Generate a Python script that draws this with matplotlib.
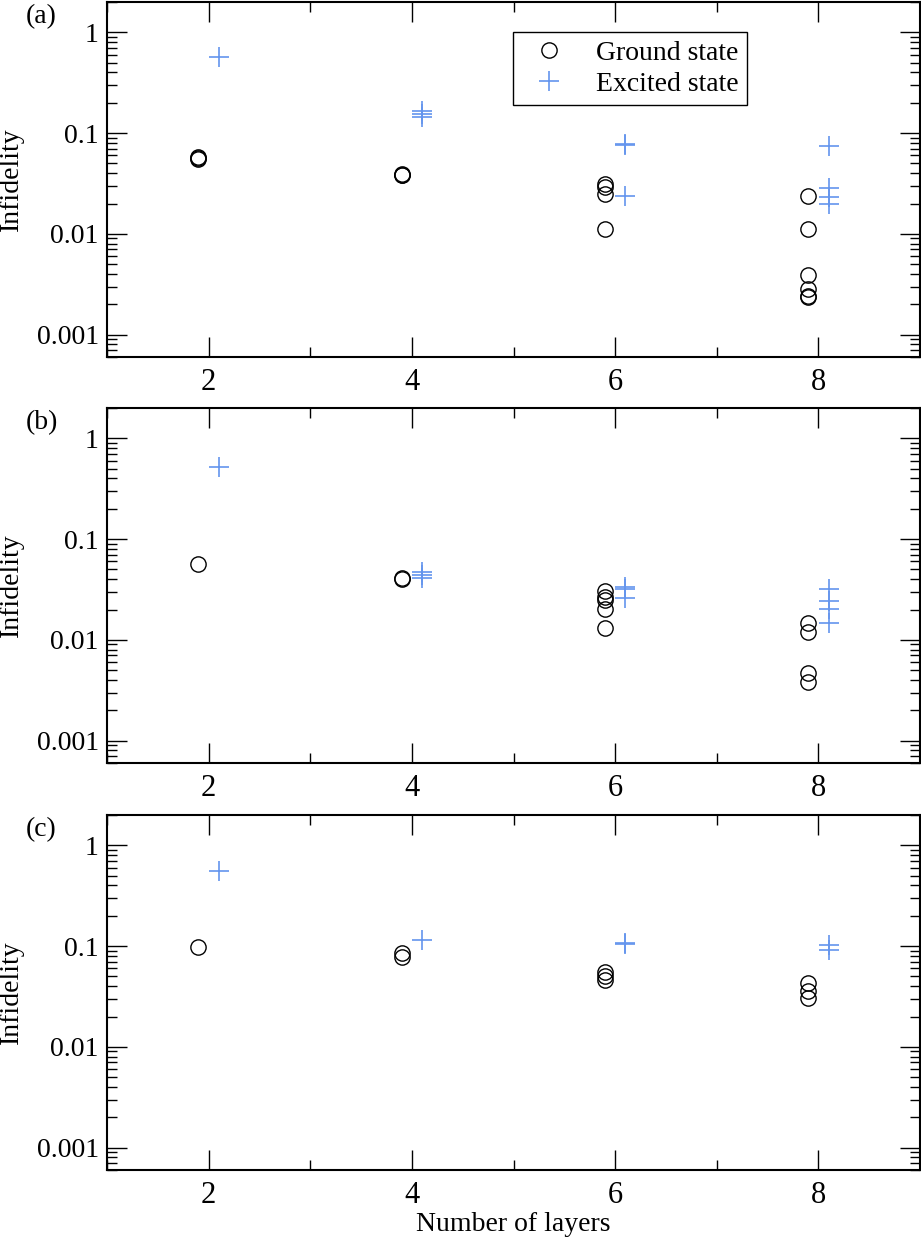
import matplotlib
matplotlib.use("Agg")
import matplotlib.pyplot as plt
from matplotlib.ticker import FixedLocator, NullFormatter, LogLocator

plt.rcParams["font.family"] = ["Liberation Serif", "DejaVu Serif"]
plt.rcParams["mathtext.fontset"] = "stix"

layers = [2, 4, 6, 8]

# panel (a)
a_ground = [[0.0555, 0.0565, 0.0575], [0.038, 0.0385, 0.039],
            [0.0295, 0.031, 0.0247, 0.0112],
            [0.024, 0.0112, 0.0039, 0.00284, 0.00234, 0.0024]]
a_excited = [[0.57], [0.165, 0.155, 0.145], [0.076, 0.078, 0.024],
             [0.0743, 0.0283, 0.0234, 0.0198]]

# panel (b)
b_ground = [[0.0565], [0.040, 0.0408],
            [0.0308, 0.0268, 0.0249, 0.0201, 0.0131],
            [0.0148, 0.0119, 0.00468, 0.00386]]
b_excited = [[0.516], [0.0475, 0.044, 0.0414], [0.0332, 0.0322, 0.0262],
             [0.032, 0.0243, 0.0201, 0.0148]]

# panel (c)
c_ground = [[0.0985], [0.0848, 0.0773], [0.0557, 0.0508, 0.046],
            [0.0434, 0.0358, 0.0303]]
c_excited = [[0.553], [0.1146], [0.104, 0.107], [0.102, 0.091]]

panels = [("(a)", a_ground, a_excited), ("(b)", b_ground, b_excited),
          ("(c)", c_ground, c_excited)]
yticks = [1, 0.1, 0.01, 0.001]
ytick_labels = ["1", "0.1", "0.01", "0.001"]

blue = "#6495ED"
W, H = 921, 1241
fig = plt.figure(figsize=(W / 100, H / 100), dpi=100)

tops = [2, 408, 815]
bottoms = [357, 763, 1170]
left_px, right_px = 107, 920

axes = []
for i, (lab, gr, ex) in enumerate(panels):
    ax = fig.add_axes([left_px / W, 1 - bottoms[i] / H,
                       (right_px - left_px) / W, (bottoms[i] - tops[i]) / H])
    axes.append(ax)
    for L, vals in zip(layers, gr):
        ax.plot([L - 0.1] * len(vals), vals, ls="none", marker="o", ms=11,
                mfc="none", mec="black", mew=1.0,
                label="Ground state" if L == 2 else None)
    for L, vals in zip(layers, ex):
        ax.plot([L + 0.1] * len(vals), vals, ls="none", marker="+", ms=15,
                mec=blue, mew=1.2,
                label="Excited state" if L == 2 else None)

    ax.set_yscale("log")
    ax.set_xlim(1, 9)
    ax.set_ylim(6e-4, 2)
    ax.set_yticks(yticks)
    ax.set_yticklabels(ytick_labels)
    ax.yaxis.set_minor_locator(LogLocator(base=10, subs=range(2, 10), numticks=20))
    ax.yaxis.set_minor_formatter(NullFormatter())
    ax.set_xticks(layers)
    ax.xaxis.set_minor_locator(FixedLocator([1, 3, 5, 7, 9]))
    ax.tick_params(which="both", direction="in", top=True, right=True, width=1.0)
    ax.tick_params(which="major", length=14.5)
    ax.tick_params(which="minor", length=7)
    ax.tick_params(axis="y", which="major", labelsize=20, pad=6)
    ax.tick_params(axis="x", which="major", labelsize=22, pad=8)
    for s in ax.spines.values():
        s.set_linewidth(1.5)
    ax.set_ylabel("Infidelity", fontsize=20)
    ax.yaxis.set_label_coords(-0.102, 0.5)
    ax.text(-0.0996, 0.958, lab, transform=ax.transAxes, fontsize=20,
            ha="left", va="center")

leg = axes[0].legend(loc="upper left", bbox_to_anchor=(0.4994, 0.9155),
                     fontsize=20, frameon=True, fancybox=False,
                     edgecolor="black", framealpha=1, borderpad=0.3,
                     handlelength=2.0, handletextpad=0.7, labelspacing=0.2,
                     borderaxespad=0)
leg.get_frame().set_linewidth(1.0)

axes[2].set_xlabel("Number of layers", fontsize=20)
axes[2].xaxis.set_label_coords(0.5, -0.118)

fig.savefig("out.png", dpi=100)
